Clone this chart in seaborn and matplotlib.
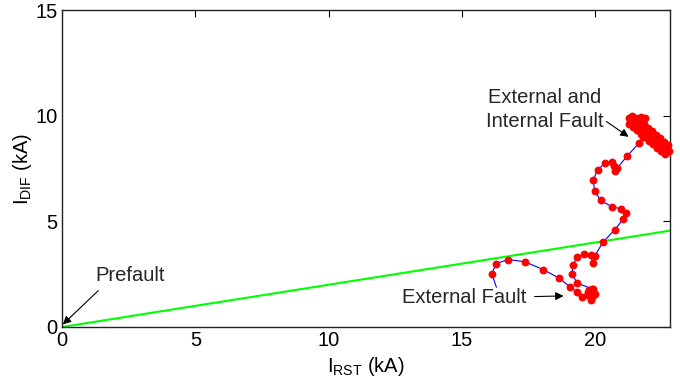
import matplotlib
matplotlib.use("Agg")
import matplotlib.pyplot as plt
import seaborn as sns
import pandas as pd

# Restraint (slope) characteristic of the differential relay
slope_x = [0.0, 22.8]
slope_y = [0.0, 4.56]

# Operating-point trajectory (I_RST, I_DIF) in kA: external fault part
ext_x = [16.29, 16.12, 16.28, 16.73, 17.35, 18.04, 18.63, 19.04, 19.32, 19.51,
         19.78, 19.93, 19.89, 19.74, 19.86, 19.97, 19.82, 19.89, 19.71, 19.86,
         19.32, 19.13, 19.16, 19.32, 19.59, 19.82, 19.91, 19.98, 20.28, 20.72,
         21.05, 21.16, 20.97, 20.61, 20.20, 19.97, 19.92, 20.09, 20.36, 20.61,
         20.69, 20.73, 20.82, 21.20, 21.65, 21.80]
ext_y = [1.88, 2.53, 3.00, 3.19, 3.09, 2.72, 2.32, 1.91, 1.64, 1.44,
         1.75, 1.80, 1.61, 1.52, 1.42, 1.56, 1.28, 1.71, 1.66, 1.82,
         2.07, 2.50, 2.94, 3.30, 3.45, 3.41, 3.02, 3.36, 4.00, 4.60,
         5.10, 5.39, 5.58, 5.70, 5.99, 6.45, 6.97, 7.44, 7.76, 7.82,
         7.64, 7.36, 7.52, 8.10, 8.72, 8.99]

# Trajectory after the internal fault develops (dense settling band)
int_x = [21.28, 21.40, 21.51, 21.25, 21.36, 21.70, 21.88,
         21.43, 21.55, 21.66, 21.58, 21.70, 21.81, 21.73, 21.85, 21.96,
         21.88, 22.00, 22.11, 22.03, 22.15, 22.26, 22.18, 22.30, 22.41,
         22.33, 22.45, 22.56, 22.48, 22.60, 22.71, 22.63, 22.75]
int_y = [9.62, 9.76, 9.91, 9.91, 9.98, 9.93, 9.88,
         9.48, 9.62, 9.76, 9.34, 9.48, 9.62, 9.15, 9.29, 9.43,
         9.00, 9.15, 9.29, 8.82, 8.96, 9.10, 8.67, 8.82, 8.96,
         8.48, 8.63, 8.77, 8.34, 8.48, 8.63, 8.20, 8.34]

x_ticks = [0, 5, 10, 15, 20]
y_ticks = [0, 5, 10, 15]

sns.set_theme(style="white")
plt.rcParams["font.family"] = ["Liberation Sans", "DejaVu Sans"]
plt.rcParams["mathtext.fontset"] = "custom"
plt.rcParams["mathtext.rm"] = "Liberation Sans"
plt.rcParams["mathtext.it"] = "Liberation Sans:italic"

FS = 14.5

fig = plt.figure(figsize=(6.8, 3.79), dpi=100)
ax = fig.add_axes([62 / 680, 1 - 327 / 379, 608 / 680, 317 / 379])

slope_df = pd.DataFrame({"x": slope_x, "y": slope_y})
traj_df = pd.DataFrame({"x": ext_x + int_x, "y": ext_y + int_y})

sns.lineplot(data=slope_df, x="x", y="y", sort=False, estimator=None,
             color="#00ff00", linewidth=1.5, ax=ax, zorder=2)
sns.lineplot(data=traj_df, x="x", y="y", sort=False, estimator=None,
             color="#0000ff", linewidth=0.8, ax=ax, zorder=3)
sns.scatterplot(data=traj_df.iloc[1:], x="x", y="y", color="#ff0000",
                s=32, linewidth=0, ax=ax, zorder=4, clip_on=False)

ax.set_xlim(0, 22.8)
ax.set_ylim(0, 15)
ax.set_xticks(x_ticks)
ax.set_yticks(y_ticks)
ax.tick_params(direction="in", top=True, right=True, length=5, width=0.8,
               labelsize=FS, pad=3, colors="black")
for sp in ax.spines.values():
    sp.set_color("#222222")
    sp.set_linewidth(1.0)

ax.set_xlabel(r"I$_{\mathrm{RST}}$ (kA)", fontsize=FS, labelpad=3.5, color="black")
ax.set_ylabel(r"I$_{\mathrm{DIF}}$ (kA)", fontsize=FS, labelpad=1, color="black")

arrow = dict(arrowstyle="-|>", color="black", lw=0.8, mutation_scale=12,
             shrinkA=0, shrinkB=0)

ax.text(1.24, 2.42, "Prefault", fontsize=FS, ha="left", va="center")
ax.annotate("", xy=(0.03, 0.12), xytext=(1.36, 1.72), arrowprops=arrow)

ax.text(12.76, 1.40, "External Fault", fontsize=FS, ha="left", va="center")
ax.annotate("", xy=(18.81, 1.47), xytext=(17.72, 1.44), arrowprops=arrow)

ax.text(18.09, 10.29, "External and\nInternal Fault", fontsize=FS,
        ha="center", va="center", multialignment="center", linespacing=1.3)
ax.annotate("", xy=(21.25, 9.0), xytext=(20.42, 9.72), arrowprops=arrow)

fig.savefig("out.png", dpi=100)
